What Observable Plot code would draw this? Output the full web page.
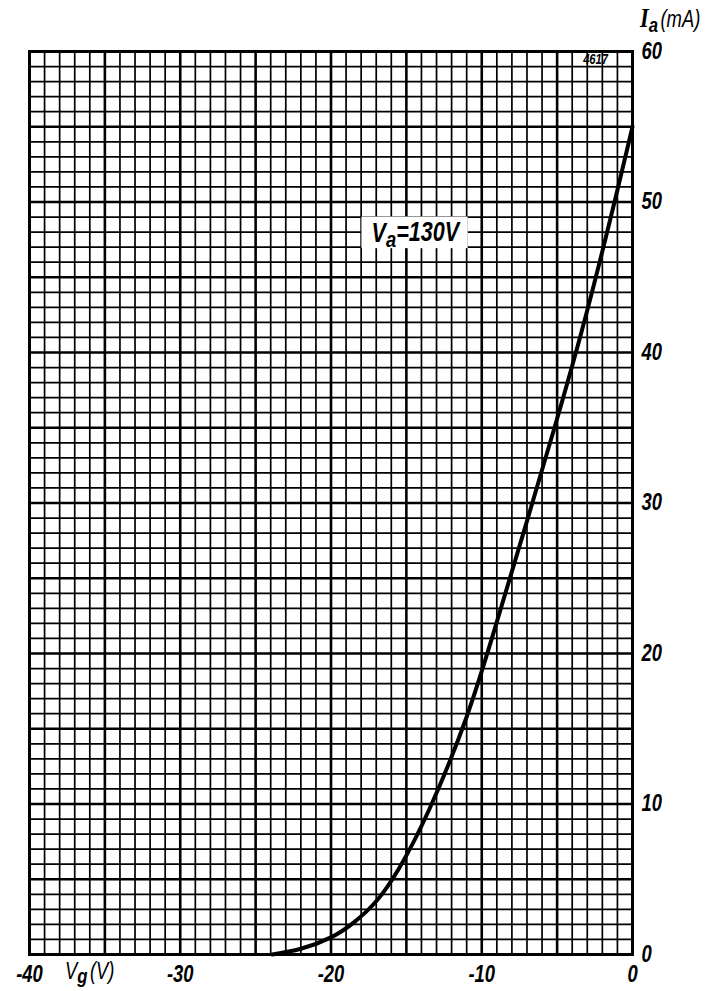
<!DOCTYPE html>
<html>
<head>
<meta charset="utf-8">
<script src="https://cdn.jsdelivr.net/npm/d3@7"></script>
<script src="https://cdn.jsdelivr.net/npm/@observablehq/plot@0.6"></script>
<style>
  html, body { margin: 0; padding: 0; background: #fff; }
  #chart svg { display: block; }
</style>
</head>
<body>
<div id="chart"></div>
<script>
// Grid voltage Vg (V) and anode current Ia (mA), Va = 130 V
const vg = [-23.9, -22, -20, -18.5, -17, -15.5, -13.5, -11, -9, -7, -5, -3, -1, 0];
const ia = [0, 0.38, 1.14, 2.12, 3.54, 5.7, 9.6, 15.8, 22.1, 28.8, 35.6, 42.8, 50.8, 55];

const xTicks = [-40, -30, -20, -10, 0];
const yTicks = [0, 10, 20, 30, 40, 50, 60];

const curve = vg.map((v, i) => ({vg: v, ia: ia[i]}));

const minorX = d3.range(-40, 1, 1).filter(v => v % 5 !== 0);
const majorX = d3.range(-40, 1, 5);
const minorY = d3.range(0, 61, 1).filter(v => v % 5 !== 0);
const majorY = d3.range(0, 61, 5);

const labelBox = [{x1: -17.95, x2: -10.9, y1: 46.9, y2: 49.0}];
const label = [{x: -14.4, y: 47.9, main: "V", sub: "a", rest: "=130V"}];
const tag = [{x: -2.45, y: 59.5, text: "4617"}];

const font = "'Liberation Sans', Arial, sans-serif";
const squeeze = " scale(0.8,1)";

const plot = Plot.plot({
  width: 709,
  height: 991,
  marginLeft: 29,
  marginRight: 77,
  marginTop: 51,
  marginBottom: 37,
  style: {fontFamily: font, background: "#fff", color: "#000"},
  x: {domain: [-40, 0], ticks: xTicks},
  y: {domain: [0, 60], ticks: yTicks},
  marks: [
    Plot.ruleX(minorX, {stroke: "#000", strokeWidth: 1.7}),
    Plot.ruleY(minorY, {stroke: "#000", strokeWidth: 1.7}),
    Plot.ruleX(majorX, {stroke: "#000", strokeWidth: 2.6}),
    Plot.ruleY(majorY, {stroke: "#000", strokeWidth: 2.6}),
    Plot.frame({stroke: "#000", strokeWidth: 3}),
    Plot.rect(labelBox, {x1: "x1", x2: "x2", y1: "y1", y2: "y2", fill: "#fff"}),
    Plot.text(label, {x: "x", y: "y", text: d => d.main + d.sub + d.rest, className: "va-label",
      fontSize: 27, fontStyle: "italic", fontWeight: "bold", fill: "#000"}),
    Plot.text(tag, {x: "x", y: "y", text: "text", fontSize: 14, fontStyle: "italic", fontWeight: "bold", fill: "#000", className: "tag"}),
    Plot.line(curve, {x: "vg", y: "ia", curve: "natural", stroke: "#000", strokeWidth: 4}),
    Plot.axisX({ticks: xTicks, tickSize: 0, tickPadding: 11, label: null, fontSize: 23,
      tickFormat: d => d === 0 ? "0" : "-" + Math.abs(d)}),
    Plot.axisY({anchor: "right", ticks: yTicks, tickSize: 0, tickPadding: 9, label: null, fontSize: 23,
      textAnchor: "start"})
  ]
});

const svg = d3.select(plot);

// style tick labels italic bold and condensed
svg.selectAll("g[aria-label='x-axis tick label'], g[aria-label='y-axis tick label']")
  .attr("font-style", "italic").attr("font-weight", "bold");
svg.selectAll("g[aria-label='x-axis tick label'] text, g[aria-label='y-axis tick label'] text, .va-label text, .tag text")
  .each(function() {
    const t = d3.select(this);
    const tr = t.attr("transform") || "";
    t.attr("transform", tr + squeeze);
  });

// subscript for Va label
svg.selectAll(".va-label text").each(function() {
  const t = d3.select(this);
  t.text(null);
  t.append("tspan").text(label[0].main);
  t.append("tspan").attr("dy", "0.22em").attr("font-size", "0.85em").text(label[0].sub);
  t.append("tspan").attr("dy", "-0.22em").text(label[0].rest);
});

// axis titles
const yt = svg.append("text")
  .attr("transform", "translate(640,27)" + squeeze)
  .attr("text-anchor", "start")
  .attr("font-family", font).attr("font-size", 23).attr("font-style", "italic").attr("fill", "#000");
yt.append("tspan").attr("font-family", "'Liberation Serif', 'DejaVu Serif', serif").attr("font-weight", "bold").attr("font-size", 28).text("I");
yt.append("tspan").attr("dy", "0.25em").attr("font-weight", "bold").attr("font-size", 21).text("a");
yt.append("tspan").attr("dy", "-0.25em").attr("dx", 3).text("(mA)");

const xt = svg.append("text")
  .attr("transform", "translate(65,979)" + squeeze)
  .attr("text-anchor", "start")
  .attr("font-family", font).attr("font-size", 23).attr("font-style", "italic").attr("fill", "#000");
xt.append("tspan").text("V");
xt.append("tspan").attr("dy", "0.2em").attr("font-size", 21).attr("font-weight", "bold").text("g");
xt.append("tspan").attr("dy", "-0.2em").attr("dx", 3).text("(V)");

document.getElementById("chart").appendChild(plot);
</script>
</body>
</html>
